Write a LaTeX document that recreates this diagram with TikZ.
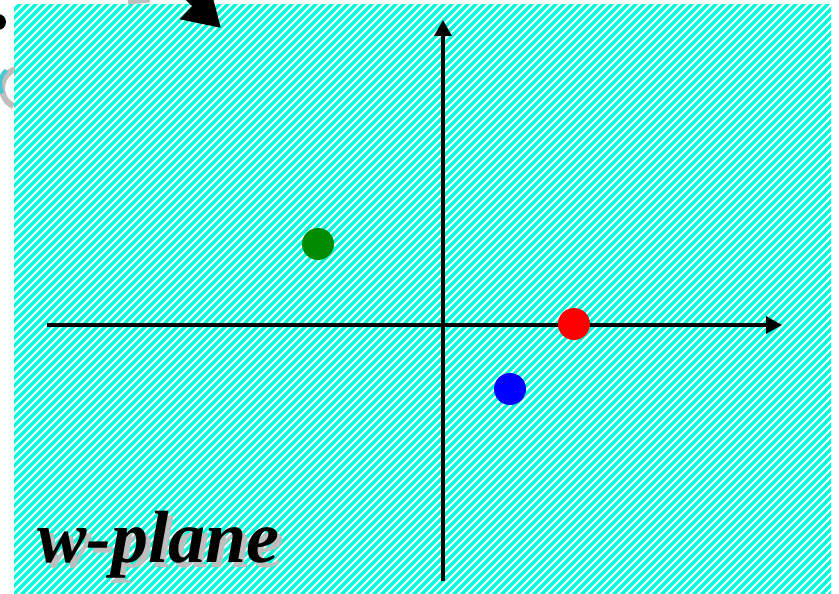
\documentclass[tikz,border=0pt]{standalone}
\usepackage{fontspec}
\setmainfont{Liberation Serif}
\usetikzlibrary{arrows.meta}
\definecolor{hatch}{RGB}{0,250,215}
\definecolor{dotgreen}{RGB}{0,140,0}
\definecolor{shadowgray}{RGB}{190,190,190}
\definecolor{logocyan}{RGB}{70,200,210}
\tikzset{
  axis/.style={line width=3.5pt,-{Triangle[length=16pt,width=17pt]}},
  pt/.style={circle,inner sep=0pt,minimum size=32pt},
  lbl/.style={font=\bfseries\itshape\fontsize{74}{80}\selectfont,anchor=base west,inner sep=0pt}
}
\begin{document}
\begin{tikzpicture}[x=1pt,y=-1pt]
\useasboundingbox (0,0) rectangle (839,594);
% remnants of content above
\draw[shadowgray,line width=6pt] (22,88) ++(115:20) arc[start angle=115,end angle=250,radius=20];
\draw[logocyan,line width=4pt] (18,84) ++(150:18) arc[start angle=150,end angle=230,radius=18];
\draw[shadowgray,line width=5pt] (128,2) -- (150,0);
\fill[black] (-2,22) circle (8);
% hatched plane
\begin{scope}
\clip (14,5) rectangle (831,594);
\foreach \x in {-600,-592,...,840}{
  \draw[hatch,line width=3.3pt] (\x,600) -- (\x+600,0);
}
\end{scope}
\coordinate (arrstart) at (160,-30);
\coordinate (arrtip) at (221,28);
\draw[line width=8pt,-{Triangle[length=36pt,width=42pt]}] (arrstart) -- (arrtip);
% axes
\coordinate (xl) at (47,325);
\coordinate (xr) at (782,325);
\coordinate (yb) at (443,581);
\coordinate (yt) at (443,20);
\draw[axis] (xl) -- (xr);
\draw[axis] (yb) -- (yt);
% points
\node[pt,fill=dotgreen] (g) at (318,244) {};
\node[pt,fill=red] (r) at (574,324) {};
\node[pt,fill=blue] (b) at (510,389) {};
% label with drop shadow
\node[lbl,text=black] (lbltext) at (37,562) {\makebox[0pt][l]{\hspace{5pt}\raisebox{-5pt}{\color{shadowgray}w-plane}}w-plane};
\end{tikzpicture}
\end{document}
